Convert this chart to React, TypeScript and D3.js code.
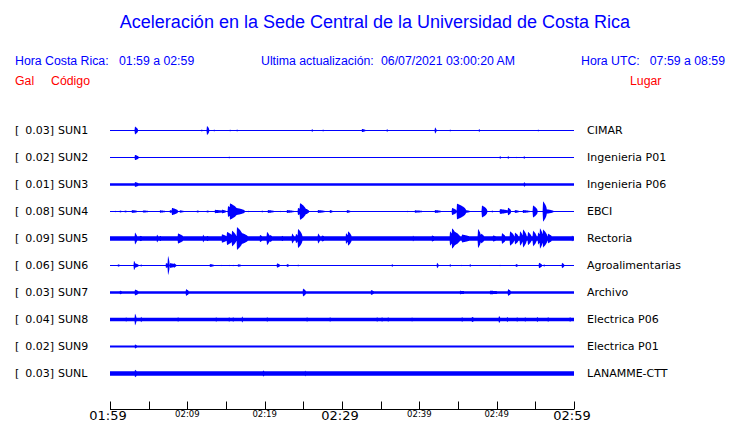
import React from "react";
import * as d3 from "d3";

type Ev = [number, number, number]; // [minute, relative amplitude, decay minutes]

const stations = ["SUN1", "SUN2", "SUN3", "SUN4", "SUN5", "SUN6", "SUN7", "SUN8", "SUN9", "SUNL"];
const places = ["CIMAR", "Ingenieria P01", "Ingenieria P06", "EBCI", "Rectoria", "Agroalimentarias", "Archivo", "Electrica P06", "Electrica P01", "LANAMME-CTT"];
const peakGal = ["0.03", "0.02", "0.01", "0.08", "0.09", "0.06", "0.03", "0.04", "0.02", "0.03"];
const noiseLevel = [0.04, 0.04, 0.1, 0.04, 0.19, 0.04, 0.11, 0.15, 0.09, 0.19];

const sun1: Ev[] = [[3.23, .33, .4], [11.86, .08, .1], [12.54, .38, .3], [13.45, .08, .1], [15.52, .08, .1], [16.42, .08, .1], [26.12, .12, .1], [27.54, .08, .1], [32.59, .13, .5], [35.82, .12, .1], [42.03, .25, .2], [43.97, .08, .1], [47.72, .12, .1], [55.35, .08, .1]];
const sun2: Ev[] = [[3.23, .22, .5], [15.39, .08, .1], [50.43, .12, .1], [51.47, .12, .1], [52.5, .06, .1], [53.54, .12, .1]];
const sun3: Ev[] = [[3.23, .2, .6], [53.54, .2, .2]];
const sun4: Ev[] = [[0.65, .06, .2], [1.29, .08, .3], [1.94, .08, .3], [2.84, .12, .8], [4.27, .09, .9], [6.47, .1, .8], [7.76, .12, .3], [8.02, .3, .8], [9.05, .1, .6], [11.25, .08, .4], [12.54, .08, .4], [13.58, .14, 1.2], [14.48, .15, .6], [15.26, .45, .6], [15.52, .68, 1.0], [16.29, .3, 1.2], [17.85, .06, .1], [19.66, .08, .1], [20.43, .12, .9], [21.98, .07, .1], [22.89, .12, 1.0], [24.31, .3, .5], [24.57, .7, .8], [24.96, .3, .8], [26.9, .12, 1.0], [28.45, .12, .4], [30.65, .12, .5], [38.41, .06, .1], [39.44, .1, 1.2], [42.03, .12, .9], [44.23, .3, .6], [44.87, .65, 1.2], [45.91, .12, .7], [48.1, .5, .7], [49.4, .08, .2], [50.43, .2, 1.2], [51.47, .32, .4], [52.37, .12, .6], [53.41, .12, 1.0], [54.7, .5, .6], [56.0, .85, .5], [56.51, .18, .9]];
const sun5: Ev[] = [[3.23, .5, .3], [3.88, .22, 1.0], [6.08, .33, .2], [6.47, .22, .6], [8.79, .42, .8], [9.7, .18, .6], [12.03, .33, .2], [12.54, .22, .8], [14.48, .35, .8], [15.13, .55, .8], [15.78, .65, .6], [16.42, .95, .8], [17.07, .45, .9], [19.4, .3, .4], [20.3, .55, .4], [20.69, .3, .4], [22.24, .22, .6], [23.54, .42, .3], [24.05, .4, .3], [24.31, .8, .6], [26.9, .42, .3], [27.41, .25, .6], [30.52, .45, .3], [30.78, .6, .5], [39.18, .25, .2], [41.64, .25, .6], [43.97, .6, .4], [44.23, .85, .6], [44.62, .55, .7], [45.52, .33, 1.3], [47.59, .8, .4], [47.98, .4, .5], [49.53, .25, .8], [50.69, .45, .5], [51.73, .6, .6], [52.37, .5, .5], [53.02, .6, .4], [53.41, .75, .5], [54.05, .55, .5], [54.7, .65, .5], [55.35, .5, .4], [55.6, .85, .4], [55.99, .75, .6], [56.64, .4, .6], [59.74, .25, .2]];
const sun6: Ev[] = [[1.03, .1, .3], [3.1, .4, .2], [3.23, .18, .5], [4.01, .1, .1], [7.24, .2, .4], [7.5, .8, .2], [7.76, .2, .8], [8.28, .18, .3], [12.93, .12, .6], [14.48, .06, .1], [15.39, .06, .1], [15.9, .06, .1], [16.55, .1, .5], [21.6, .18, .4], [22.89, .12, .3], [24.31, .08, .1], [36.47, .12, .1], [42.29, .22, .2], [43.97, .12, .1], [45.39, .06, .1], [46.55, .12, .1], [50.43, .06, .1], [52.5, .12, .3], [55.48, .22, .4], [56.12, .1, .1], [58.45, .22, .3]];
const sun7: Ev[] = [[1.29, .15, .5], [3.23, .25, .5], [9.83, .28, .4], [24.96, .33, .4], [33.75, .2, .5], [45.26, .14, 1.5], [49.14, .15, 2.0], [51.47, .28, .4]];
const sun8: Ev[] = [[2.07, .2, .2], [3.23, .5, .2], [4.01, .22, .2], [8.79, .22, .1], [13.71, .22, .1], [15.39, .22, .1], [15.9, .22, .1], [17.07, .25, .2], [20.3, .22, .1], [25.47, .22, .1], [28.45, .22, .1], [34.53, .22, .1], [35.17, .22, .1], [35.95, .22, .1], [39.05, .2, .1], [45.52, .22, .1], [46.81, .22, .4], [50.3, .3, .2], [51.34, .22, .2], [52.63, .22, .1], [53.67, .22, .1], [55.22, .22, .2], [56.64, .22, .1], [59.48, .22, .1]];
const sun9: Ev[] = [[3.23, .17, .3]];
const sunL: Ev[] = [[3.23, .32, .3], [19.79, .26, .3], [25.22, .24, .2]];
const traceEvents = [sun1, sun2, sun3, sun4, sun5, sun6, sun7, sun8, sun9, sunL];

const tickMinutes = [0, 5, 10, 15, 20, 25, 30, 35, 40, 45, 50, 55, 60];
const tickLabels: Record<number, string> = { 0: "01:59", 10: "02:09", 20: "02:19", 30: "02:29", 40: "02:39", 50: "02:49", 60: "02:59" };
const majorTicks = [0, 30, 60];

const BLUE = "#0000ff";
const RED = "#ff0000";

function envelope(noise: number, evs: Ev[]) {
  const rise = 0.06;
  const ts: number[] = [];
  for (let t = 0; t <= 60.0001; t += 0.04) ts.push(t);
  evs.forEach(([t0, , d]) => { ts.push(t0 - rise, t0, t0 + Math.max(d, 0.12)); });
  const sorted = ts.filter((t) => t >= 0 && t <= 60).sort((a, b) => a - b);
  return sorted.map((t) => {
    let e = noise;
    for (const [t0, a, d0] of evs) {
      const d = Math.max(d0, 0.12);
      let c = 0;
      if (t >= t0 - rise && t < t0) c = (a * (t - (t0 - rise))) / rise;
      else if (t >= t0 && t <= t0 + d) c = a * Math.pow(1 - (t - t0) / d, 0.45);
      if (c > e) e = c;
    }
    return { t, e };
  });
}

export default function App() {
  const x = d3.scaleLinear().domain([0, 60]).range([110, 574]);
  const rowY = d3.scaleLinear().domain([0, 1]).range([130, 157]);
  const amp = d3.scaleLinear().domain([0, 1]).range([0, 12]);
  const axisY = 409.5;
  const font = "Liberation Sans, Arial, sans-serif";

  return (
    <svg width={740} height={423} style={{ position: "absolute", left: 0, top: 0, display: "block", background: "#fff" }}>
      <text x={375} y={28} textAnchor="middle" fill={BLUE} fontFamily={font} fontSize={18}>
        Aceleración en la Sede Central de la Universidad de Costa Rica
      </text>
      <g fontFamily={font} fontSize={12.3} fill={BLUE}>
        <text x={15} y={65}>Hora Costa Rica:</text>
        <text x={119} y={65}>01:59 a 02:59</text>
        <text x={261} y={65}>Ultima actualización:</text>
        <text x={381} y={65}>06/07/2021 03:00:20 AM</text>
        <text x={581} y={65}>Hora UTC:</text>
        <text x={725} y={65} textAnchor="end">07:59 a 08:59</text>
      </g>
      <g fontFamily={font} fontSize={12.3} fill={RED}>
        <text x={15} y={85}>Gal</text>
        <text x={51} y={85}>Código</text>
        <text x={630} y={85}>Lugar</text>
      </g>
      {stations.map((s, i) => {
        const y0 = rowY(i) + 0.5;
        const data = envelope(noiseLevel[i], traceEvents[i]);
        const area = d3
          .area<{ t: number; e: number }>()
          .x((d) => x(d.t))
          .y0((d) => y0 - Math.max(amp(d.e), 0.5))
          .y1((d) => y0 + Math.max(amp(d.e), 0.5));
        return (
          <g key={s}>
            <g fontFamily="DejaVu Sans, sans-serif" fontSize={11} fill="#000">
              <text x={15} y={rowY(i) + 4}>[</text>
              <text x={54} y={rowY(i) + 4} textAnchor="end">{peakGal[i] + "]"}</text>
              <text x={58} y={rowY(i) + 4}>{s}</text>
              <text x={587} y={rowY(i) + 4}>{places[i]}</text>
            </g>
            <path d={area(data) || ""} fill={BLUE} />
          </g>
        );
      })}
      <line x1={x(0)} x2={x(60)} y1={axisY} y2={axisY} stroke="#000" strokeWidth={1} />
      {tickMinutes.map((m) => (
        <line key={m} x1={Math.round(x(m)) + 0.5} x2={Math.round(x(m)) + 0.5} y1={axisY - 8} y2={axisY} stroke="#000" strokeWidth={1} />
      ))}
      {Object.keys(tickLabels).map((k) => {
        const m = +k;
        const major = majorTicks.includes(m);
        return (
          <text key={k} x={x(m) - (major ? 2 : 0)} y={major ? 420 : 417} textAnchor="middle" fontFamily="DejaVu Sans, sans-serif" fontSize={major ? 13 : 8.5} fill="#000">
            {tickLabels[m]}
          </text>
        );
      })}
    </svg>
  );
}
